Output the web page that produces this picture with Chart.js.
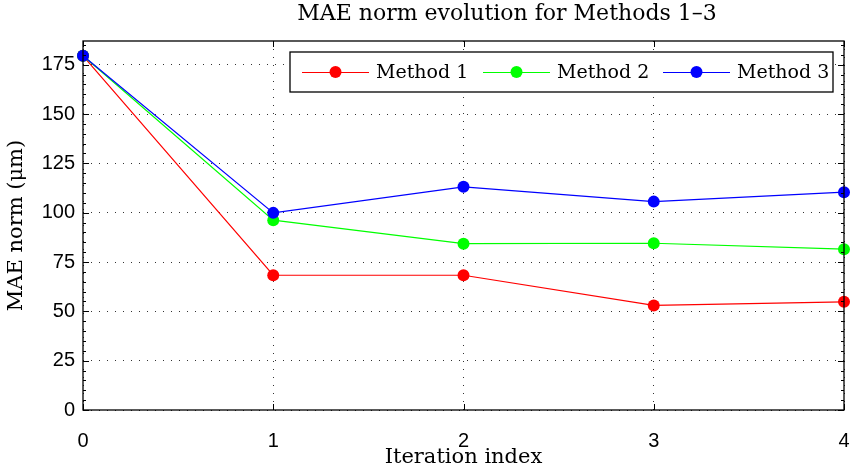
<!DOCTYPE html>
<html>
<head>
<meta charset="utf-8">
<script src="https://cdn.jsdelivr.net/npm/chart.js@4.4.1/dist/chart.umd.min.js"></script>
<style>
  html, body { margin:0; padding:0; background:#fff; }
  #wrap { width:850px; height:470px; }
</style>
</head>
<body>
<div id="wrap"><canvas id="mae"></canvas></div>
<script>
// iteration index + MAE norm per method
var iterations = ['0','1','2','3','4'];
var method1 = [179.5, 68.3, 68.3, 53.0, 54.8];
var method2 = [179.5, 96.2, 84.3, 84.5, 81.5];
var method3 = [179.5, 99.9, 113.1, 105.6, 110.4];
var seriesNames = ['Method 1','Method 2','Method 3'];
var seriesColors = ['#ff0000','#00ff00','#0000ff'];
var yTicks = [0,25,50,75,100,125,150,175];

var serif = '"DejaVu Serif", serif';
var sans = '"Liberation Sans", Arial, sans-serif';

// box round the plot, inward ticks, titles and framed legend
var frame = {
  id: 'frame',
  afterDraw: function(chart){
    var ctx = chart.ctx, a = chart.chartArea;
    var xs = chart.scales.x, ys = chart.scales.y;
    ctx.save();
    ctx.strokeStyle = '#000';
    ctx.lineWidth = 1.3;
    ctx.strokeRect(a.left, a.top, a.right - a.left, a.bottom - a.top);
    ctx.lineWidth = 1;
    ctx.beginPath();
    for (var i = 0; i < iterations.length; i++) {
      var px = Math.round(xs.getPixelForValue(i)) + 0.5;
      ctx.moveTo(px, a.bottom); ctx.lineTo(px, a.bottom - 6);
      ctx.moveTo(px, a.top); ctx.lineTo(px, a.top + 6);
    }
    for (var v = 0; v <= 185; v += 5) {
      var py = Math.round(ys.getPixelForValue(v)) + 0.5;
      var len = (v % 25 === 0) ? 6 : 3;
      ctx.moveTo(a.left, py); ctx.lineTo(a.left + len, py);
      ctx.moveTo(a.right, py); ctx.lineTo(a.right - len, py);
    }
    ctx.stroke();

    // titles
    ctx.fillStyle = '#000';
    ctx.font = '22px ' + serif;
    ctx.textAlign = 'center';
    ctx.textBaseline = 'middle';
    ctx.fillText('MAE norm evolution for Methods 1\u20133', 507, 14);
    ctx.font = '21px ' + serif;
    ctx.fillText('Iteration index', (a.left + a.right) / 2, 458);
    ctx.save();
    ctx.translate(17, (a.top + a.bottom) / 2);
    ctx.rotate(-Math.PI / 2);
    ctx.fillText('MAE norm (\u03bcm)', 0, 0);
    ctx.restore();

    // legend
    var lx = 290, ly = 52, lw = 543, lh = 40;
    ctx.fillStyle = '#fff';
    ctx.fillRect(lx, ly, lw, lh);
    ctx.strokeStyle = '#000';
    ctx.lineWidth = 1.3;
    ctx.strokeRect(lx, ly, lw, lh);
    ctx.textAlign = 'left';
    ctx.font = '19px ' + serif;
    var starts = [302, 483, 663];
    var cy = ly + lh / 2;
    for (var k = 0; k < seriesNames.length; k++) {
      var cx = starts[k];
      ctx.strokeStyle = seriesColors[k];
      ctx.lineWidth = 1;
      ctx.beginPath();
      ctx.moveTo(cx, cy + 0.5); ctx.lineTo(cx + 67, cy + 0.5);
      ctx.stroke();
      ctx.fillStyle = seriesColors[k];
      ctx.beginPath();
      ctx.arc(cx + 33.5, cy, 6, 0, Math.PI * 2);
      ctx.fill();
      ctx.fillStyle = '#000';
      ctx.fillText(seriesNames[k], cx + 74, cy + 1);
    }
    ctx.restore();
  }
};

function makeSet(idx, vals, ord){
  return {
    label: seriesNames[idx],
    data: vals,
    borderColor: seriesColors[idx],
    backgroundColor: seriesColors[idx],
    borderWidth: 1.2,
    pointRadius: 6,
    pointHoverRadius: 6,
    pointBorderWidth: 0,
    tension: 0,
    order: ord,
    clip: false
  };
}

new Chart(document.getElementById('mae').getContext('2d'), {
  type: 'line',
  data: {
    labels: iterations,
    datasets: [makeSet(0, method1, 2), makeSet(1, method2, 1), makeSet(2, method3, 0)]
  },
  options: {
    responsive: true,
    maintainAspectRatio: false,
    animation: false,
    events: [],
    layout: { padding: { top: 41, right: 3, left: 0, bottom: 0 } },
    plugins: { legend: { display: false }, title: { display: false }, tooltip: { enabled: false } },
    scales: {
      x: {
        type: 'category',
        offset: false,
        grid: { color: '#333', lineWidth: 1, drawTicks: false },
        border: { display: false, dash: [1, 7] },
        ticks: { color: '#000', font: { family: sans, size: 20 }, padding: 19, maxRotation: 0, autoSkip: false },
        afterFit: function(s){ s.height = 60; s.paddingLeft = 0; s.paddingRight = 0; }
      },
      y: {
        min: 0,
        max: 187,
        grid: { color: '#333', lineWidth: 1, drawTicks: false },
        border: { display: false, dash: [1, 7] },
        ticks: { color: '#000', font: { family: sans, size: 20 }, padding: 8 },
        afterBuildTicks: function(s){ s.ticks = yTicks.map(function(v){ return { value: v }; }); },
        afterFit: function(s){ s.width = 83; s.paddingTop = 0; s.paddingBottom = 0; }
      }
    }
  },
  plugins: [frame]
});
</script>
</body>
</html>
